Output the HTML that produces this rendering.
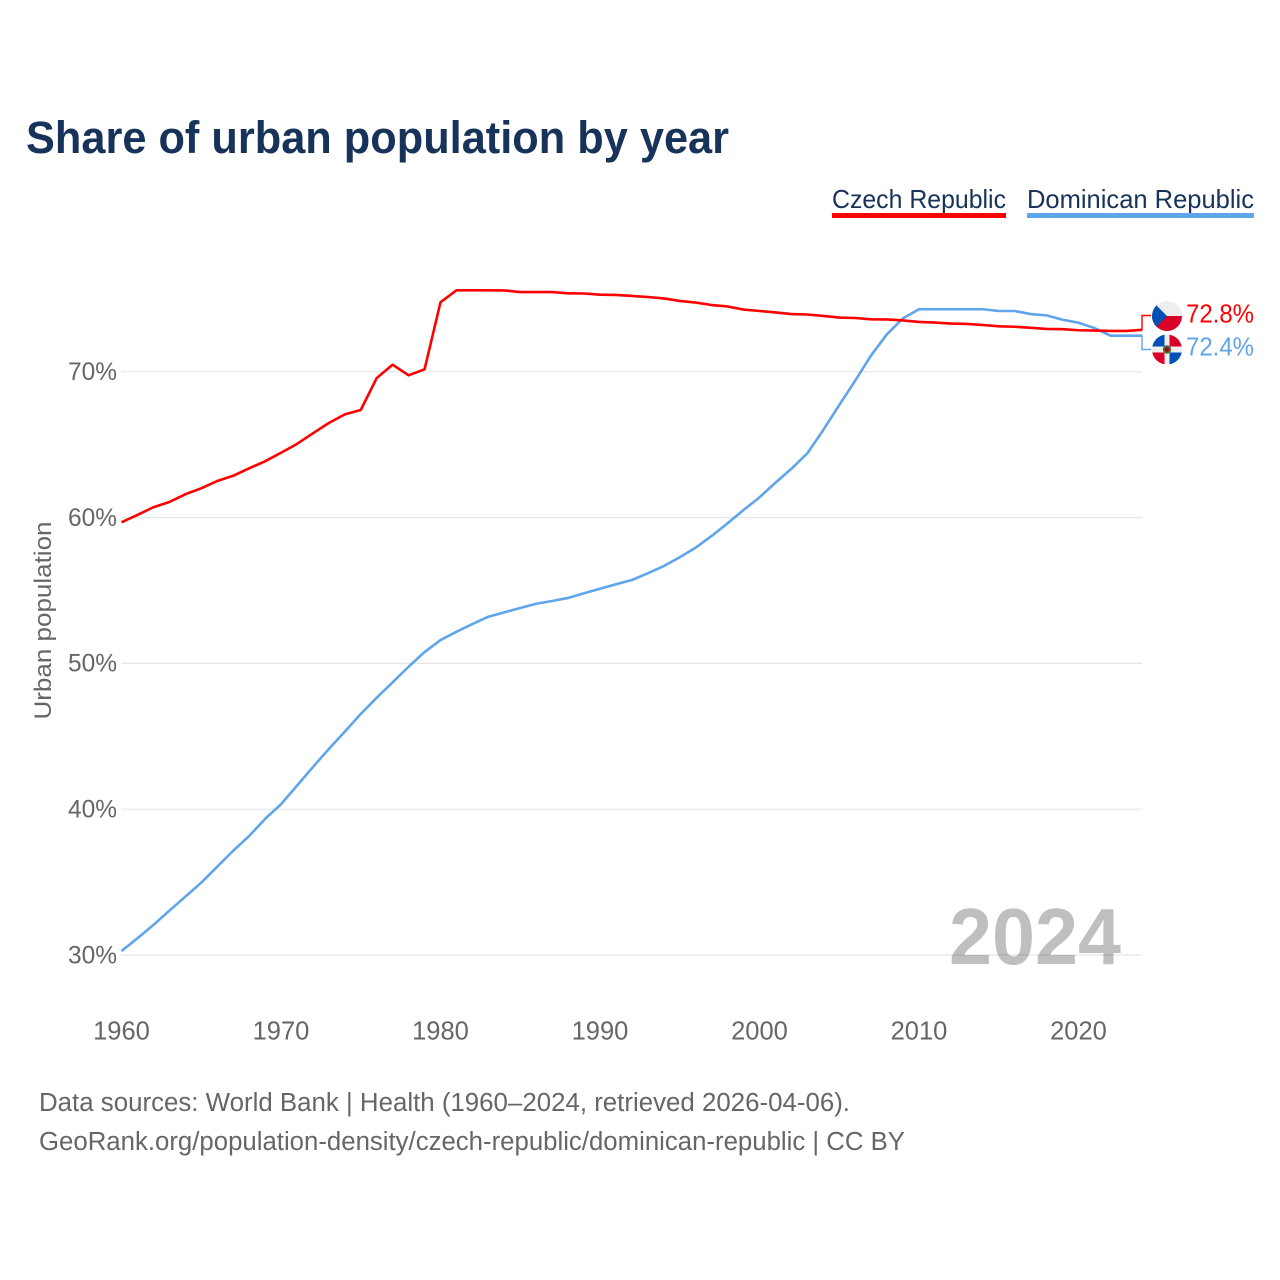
<!DOCTYPE html>
<html lang="en">
<head>
<meta charset="utf-8">
<title>Share of urban population by year</title>
<style>
  html, body { margin: 0; padding: 0; background: #fff; }
  #chart { display: block; width: 1280px; height: 1280px; font-family: "Liberation Sans", sans-serif; }
</style>
</head>
<body>
<svg id="chart" xmlns="http://www.w3.org/2000/svg" width="1280" height="1280" viewBox="0 0 1280 1280">
  <rect width="1280" height="1280" fill="#fff"/>
  <text x="26" y="153" font-size="45" font-weight="700" fill="#17335a" textLength="703" lengthAdjust="spacingAndGlyphs">Share of urban population by year</text>

  <g>
    <g>
      <text x="832" y="208" font-size="26" fill="#17335a" textLength="174" lengthAdjust="spacingAndGlyphs">Czech Republic</text>
      <rect x="832" y="213" width="174" height="5" fill="#ff0000"/>
    </g>
    <g>
      <text x="1027" y="208" font-size="26" fill="#17335a" textLength="227" lengthAdjust="spacingAndGlyphs">Dominican Republic</text>
      <rect x="1027" y="213" width="227" height="5" fill="#5fa5ec"/>
    </g>
  </g>

  <g id="grid"></g>
  <g id="y-axis"></g>
  <g id="x-axis"></g>

  <text transform="translate(51 620.5) rotate(-90)" text-anchor="middle" font-size="24.5" fill="#666" textLength="198" lengthAdjust="spacingAndGlyphs">Urban population</text>

  <text x="1121" y="964" text-anchor="end" font-size="80" font-weight="700" fill="#000" fill-opacity="0.25" textLength="172" lengthAdjust="spacingAndGlyphs">2024</text>

  <g id="series"></g>

  <defs>
    <clipPath id="flag-clip-cz"><circle cx="1167" cy="316" r="15"/></clipPath>
    <clipPath id="flag-clip-do"><circle cx="1167" cy="349.5" r="15"/></clipPath>
  </defs>

  <g clip-path="url(#flag-clip-cz)">
    <rect x="1152" y="301" width="30" height="15" fill="#eeeeee"/>
    <rect x="1152" y="316" width="30" height="15" fill="#d80027"/>
    <polygon points="1152,301 1167,316 1152,331" fill="#0052b4"/>
  </g>
  <g clip-path="url(#flag-clip-do)">
    <rect x="1152" y="334.5" width="30" height="30" fill="#eeeeee"/>
    <rect x="1152" y="334.5" width="12.5" height="12" fill="#0052b4"/>
    <rect x="1169.5" y="334.5" width="12.5" height="12" fill="#d80027"/>
    <rect x="1152" y="352.5" width="12.5" height="12" fill="#d80027"/>
    <rect x="1169.5" y="352.5" width="12.5" height="12" fill="#0052b4"/>
    <circle cx="1167" cy="349.5" r="4.2" fill="#496e2d"/>
    <circle cx="1167" cy="349.5" r="2.2" fill="#a2001d"/>
  </g>

  <text x="1186" y="322.5" font-size="26" fill="#ff0000" textLength="68" lengthAdjust="spacingAndGlyphs">72.8%</text>
  <text x="1186" y="355.5" font-size="26" fill="#5fa5ec" textLength="68" lengthAdjust="spacingAndGlyphs">72.4%</text>

  <g>
    <text x="39" y="1111" font-size="25.5" fill="#666" textLength="811" lengthAdjust="spacingAndGlyphs">Data sources: World Bank | Health (1960–2024, retrieved 2026-04-06).</text>
    <text x="39" y="1150" font-size="25.5" fill="#666" textLength="866" lengthAdjust="spacingAndGlyphs">GeoRank.org/population-density/czech-republic/dominican-republic | CC BY</text>
  </g>
</svg>

<script>
const years = [1960,1961,1962,1963,1964,1965,1966,1967,1968,1969,
  1970,1971,1972,1973,1974,1975,1976,1977,1978,1979,
  1980,1981,1982,1983,1984,1985,1986,1987,1988,1989,
  1990,1991,1992,1993,1994,1995,1996,1997,1998,1999,
  2000,2001,2002,2003,2004,2005,2006,2007,2008,2009,
  2010,2011,2012,2013,2014,2015,2016,2017,2018,2019,
  2020,2021,2022,2023,2024];
const czechValues = [59.68,60.18,60.71,61.07,61.60,62.01,62.51,62.87,63.38,63.86,
  64.45,65.05,65.78,66.49,67.08,67.38,69.57,70.49,69.76,70.17,
  74.77,75.59,75.59,75.59,75.58,75.47,75.47,75.47,75.38,75.37,
  75.29,75.27,75.20,75.13,75.03,74.86,74.75,74.58,74.48,74.27,
  74.17,74.07,73.96,73.93,73.83,73.72,73.69,73.60,73.59,73.52,
  73.42,73.38,73.31,73.28,73.21,73.12,73.09,73.02,72.94,72.92,
  72.85,72.83,72.80,72.80,72.88];
const dominicanValues = [30.27,31.15,32.06,33.04,34.00,34.96,36.06,37.15,38.16,39.33,
  40.34,41.61,42.89,44.13,45.32,46.53,47.65,48.70,49.77,50.78,
  51.60,52.17,52.70,53.20,53.50,53.80,54.09,54.28,54.49,54.81,
  55.12,55.43,55.72,56.18,56.68,57.28,57.94,58.74,59.61,60.52,
  61.39,62.39,63.35,64.41,66.01,67.72,69.39,71.13,72.59,73.67,
  74.29,74.29,74.29,74.29,74.29,74.17,74.17,73.96,73.87,73.57,
  73.37,73.00,72.48,72.48,72.48];
const yTicks = [30, 40, 50, 60, 70];
const yTickLabels = ["30%", "40%", "50%", "60%", "70%"];
const xTicks = [1960, 1970, 1980, 1990, 2000, 2010, 2020];
const xTickLabels = ["1960", "1970", "1980", "1990", "2000", "2010", "2020"];

const NS = "http://www.w3.org/2000/svg";
const plotLeft = 121.5, plotRight = 1142;
function xScale(year) { return plotLeft + (year - 1960) * 15.95; }
function yScale(value) { return 955 - (value - 30) * 14.58; }

const gridGroup = document.getElementById("grid");
const yAxisGroup = document.getElementById("y-axis");
const xAxisGroup = document.getElementById("x-axis");
const seriesGroup = document.getElementById("series");

yTicks.forEach(function (tick, i) {
  const line = document.createElementNS(NS, "line");
  line.setAttribute("x1", plotLeft);
  line.setAttribute("x2", plotRight);
  line.setAttribute("y1", yScale(tick));
  line.setAttribute("y2", yScale(tick));
  line.setAttribute("stroke", "#e6e6e6");
  line.setAttribute("stroke-width", "1.2");
  
  
  gridGroup.appendChild(line);

  const label = document.createElementNS(NS, "text");
  label.setAttribute("x", 117);
  label.setAttribute("y", yScale(tick) + 8.3);
  label.setAttribute("text-anchor", "end");
  label.setAttribute("font-size", "25");
  label.setAttribute("textLength", "49");
  label.setAttribute("lengthAdjust", "spacingAndGlyphs");
  label.setAttribute("fill", "#666");
  label.textContent = yTickLabels[i];
  
  
  yAxisGroup.appendChild(label);
});

xTicks.forEach(function (tick, i) {
  const label = document.createElementNS(NS, "text");
  label.setAttribute("x", xScale(tick));
  label.setAttribute("y", 1039.5);
  label.setAttribute("text-anchor", "middle");
  label.setAttribute("font-size", "25.5");
  label.setAttribute("fill", "#666");
  label.textContent = xTickLabels[i];
  
  
  xAxisGroup.appendChild(label);
});

function linePoints(values) {
  return values.map(function (v, i) {
    return xScale(years[i]).toFixed(2) + "," + yScale(v).toFixed(2);
  }).join(" ");
}

const dominicanLine = document.createElementNS(NS, "polyline");
dominicanLine.setAttribute("points", linePoints(dominicanValues));
dominicanLine.setAttribute("fill", "none");
dominicanLine.setAttribute("stroke", "#5fa5ec");
dominicanLine.setAttribute("stroke-width", "2.6");
dominicanLine.setAttribute("stroke-linejoin", "round");


seriesGroup.appendChild(dominicanLine);

const czechLine = document.createElementNS(NS, "polyline");
czechLine.setAttribute("points", linePoints(czechValues));
czechLine.setAttribute("fill", "none");
czechLine.setAttribute("stroke", "#ff0000");
czechLine.setAttribute("stroke-width", "2.6");
czechLine.setAttribute("stroke-linejoin", "round");


seriesGroup.appendChild(czechLine);

const czechConnector = document.createElementNS(NS, "polyline");
czechConnector.setAttribute("points", plotRight + "," + yScale(czechValues[czechValues.length - 1]).toFixed(2) + " " + plotRight + ",315.5 1151,315.5");
czechConnector.setAttribute("fill", "none");
czechConnector.setAttribute("stroke", "#ff0000");
czechConnector.setAttribute("stroke-width", "1.4");


seriesGroup.appendChild(czechConnector);

const dominicanConnector = document.createElementNS(NS, "polyline");
dominicanConnector.setAttribute("points", plotRight + "," + yScale(dominicanValues[dominicanValues.length - 1]).toFixed(2) + " " + plotRight + ",349.5 1151,349.5");
dominicanConnector.setAttribute("fill", "none");
dominicanConnector.setAttribute("stroke", "#5fa5ec");
dominicanConnector.setAttribute("stroke-width", "1.4");


seriesGroup.appendChild(dominicanConnector);
</script>
</body>
</html>
